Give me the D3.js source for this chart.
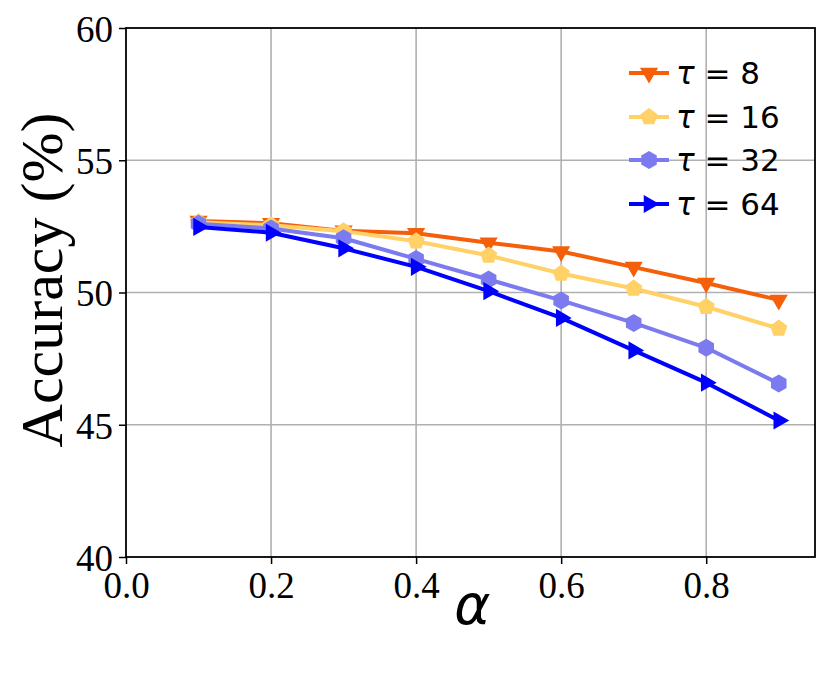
<!DOCTYPE html>
<html><head><meta charset="utf-8">
<script src="https://cdn.jsdelivr.net/npm/d3@7"></script>
<style>body{margin:0;background:#fff}</style>
</head><body>
<svg id="c" width="830" height="677"></svg>
<script>
const alphas = [0.1,0.2,0.3,0.4,0.5,0.6,0.7,0.8,0.9];
const tau8  = [52.70,52.62,52.33,52.24,51.88,51.55,50.96,50.36,49.72];
const tau16 = [52.66,52.54,52.32,51.94,51.40,50.72,50.15,49.46,48.64];
const tau32 = [52.60,52.42,52.05,51.27,50.49,49.70,48.85,47.91,46.56];
const tau64 = [52.48,52.26,51.67,50.97,50.05,49.04,47.81,46.59,45.16];
const tauValues = ["8","16","32","64"];
const xTicks = [0.0,0.2,0.4,0.6,0.8];
const yTicks = [40,45,50,55,60];

const series = [
  {tau:tauValues[0], vals:tau8,  color:"#f55f0a", marker:"down"},
  {tau:tauValues[1], vals:tau16, color:"#ffd166", marker:"pent"},
  {tau:tauValues[2], vals:tau32, color:"#7b7bef", marker:"hex"},
  {tau:tauValues[3], vals:tau64, color:"#0000ff", marker:"right"}
];

const L=126, R=815, T=28, B=557;
const svg = d3.select("#c");
const x = d3.scaleLinear().domain([0,0.95]).range([L,R]);
const y = d3.scaleLinear().domain([40,60]).range([B,T]);

function poly(n, r, rot){
  const pts=[];
  for(let i=0;i<n;i++){const a=rot+i*2*Math.PI/n; pts.push([r*Math.cos(a), r*Math.sin(a)]);}
  return "M"+pts.map(p=>p[0].toFixed(2)+","+p[1].toFixed(2)).join("L")+"Z";
}
const markerPath = {
  down: poly(3, 10.5, Math.PI/2),
  right: poly(3, 10.5, 0),
  pent: poly(5, 9, -Math.PI/2),
  hex: poly(6, 9, -Math.PI/2)
};

// grid
svg.append("g").selectAll("line").data(xTicks.filter(d=>d>0)).join("line")
  .attr("x1",d=>x(d)).attr("x2",d=>x(d)).attr("y1",T).attr("y2",B)
  .attr("stroke","#b0b0b0").attr("stroke-width",1.6);
svg.append("g").selectAll("line").data(yTicks.filter(d=>d>40&&d<60)).join("line")
  .attr("x1",L).attr("x2",R).attr("y1",d=>y(d)).attr("y2",d=>y(d))
  .attr("stroke","#b0b0b0").attr("stroke-width",1.6);

// axes
const xAxis = svg.append("g").attr("transform",`translate(0,${B})`)
  .call(d3.axisBottom(x).tickValues(xTicks).tickFormat(d3.format(".1f")).tickSize(7).tickSizeOuter(0));
const yAxis = svg.append("g").attr("transform",`translate(${L},0)`)
  .call(d3.axisLeft(y).tickValues(yTicks).tickFormat(d3.format("d")).tickSize(7).tickSizeOuter(0));
[xAxis,yAxis].forEach(g=>{
  g.select(".domain").remove();
  g.selectAll(".tick line").attr("stroke","#000").attr("stroke-width",1.5);
  g.selectAll(".tick text").attr("font-family","Liberation Serif, serif").attr("font-size",37).attr("fill","#000");
});
xAxis.selectAll(".tick text").attr("y",8).attr("dy","0.9em");
yAxis.selectAll(".tick text").attr("x",-13).attr("dy","0.36em");

// lines & markers
const line = d3.line().x((d,i)=>x(alphas[i])).y(d=>y(d));
series.forEach(s=>{
  svg.append("path").datum(s.vals).attr("d",line).attr("fill","none")
    .attr("stroke",s.color).attr("stroke-width",4).attr("stroke-linejoin","round");
  svg.append("g").selectAll("path").data(s.vals).join("path")
    .attr("d",markerPath[s.marker])
    .attr("transform",(d,i)=>`translate(${x(alphas[i])},${y(d)})`)
    .attr("fill",s.color);
});

// frame
svg.append("rect").attr("x",L).attr("y",T).attr("width",R-L).attr("height",B-T)
  .attr("fill","none").attr("stroke","#000").attr("stroke-width",1.8);

// labels
svg.append("text").attr("x",(L+R)/2+2).attr("y",624).attr("text-anchor","middle")
  .attr("font-family","DejaVu Sans, sans-serif").attr("font-style","italic").attr("font-size",55).text("α");
svg.append("text").attr("transform",`translate(62,280) rotate(-90)`).attr("text-anchor","middle")
  .attr("font-family","Liberation Serif, serif").attr("font-size",60).text("Accuracy (%)");

// legend
const lg = svg.append("g");
series.forEach((s,i)=>{
  const cy = [73,117,160,204][i];
  lg.append("line").attr("x1",629).attr("x2",669).attr("y1",cy).attr("y2",cy)
    .attr("stroke",s.color).attr("stroke-width",4);
  lg.append("path").attr("d",markerPath[s.marker]).attr("transform",`translate(649,${cy})`).attr("fill",s.color);
  const t = lg.append("text").attr("x",676).attr("y",cy+11).attr("font-family","DejaVu Sans, sans-serif")
    .attr("font-size",31).attr("fill","#000");
  t.append("tspan").attr("font-style","italic").text("τ");
  t.append("tspan").text(" = " + s.tau);
});
</script>
</body></html>
